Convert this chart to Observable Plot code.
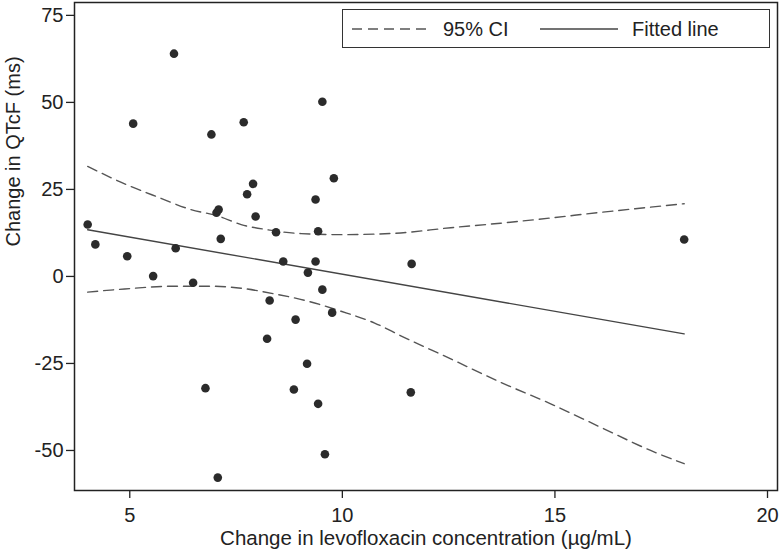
<!DOCTYPE html>
<html>
<head>
<meta charset="utf-8">
<script src="https://cdn.jsdelivr.net/npm/d3@7"></script>
<script src="https://cdn.jsdelivr.net/npm/@observablehq/plot@0.6"></script>
<style>
  html, body { margin: 0; padding: 0; background: #fff; }
  #wrap { position: relative; width: 780px; height: 552px; font-family: "Liberation Sans", Arial, sans-serif; }
  #legend { position: absolute; left: 342px; top: 9px; width: 426px; height: 37px; border: 1.5px solid #333; background: #fff; }
  #legend svg { position: absolute; left: 0; top: 0; }
  #legend .t { position: absolute; top: 7px; font-size: 20px; line-height: 24px; color: #222; white-space: nowrap; }
</style>
</head>
<body>
<div id="wrap"></div>
<script>
// Observed data: change in levofloxacin concentration (µg/mL) vs change in QTcF (ms)
const concChange = [4.01, 4.19, 4.94, 5.08, 5.55, 6.04, 6.08, 6.49, 6.92, 6.78, 7.07, 7.04, 7.09, 7.14, 7.68, 7.76, 7.90, 7.96, 8.29, 8.23, 8.44, 8.61, 8.90, 8.86, 9.17, 9.19, 9.37, 9.43, 9.37, 9.43, 9.53, 9.53, 9.59, 9.76, 9.80, 11.63, 18.04, 11.61];
const qtcfChange = [14.9, 9.2, 5.8, 43.9, 0.1, 64.0, 8.1, -1.8, 40.8, -32.1, -57.8, 18.3, 19.2, 10.8, 44.3, 23.6, 26.6, 17.2, -6.9, -17.9, 12.7, 4.3, -12.4, -32.5, -25.1, 1.1, 22.1, 13.0, 4.3, -36.6, 50.2, -3.8, -51.1, -10.4, 28.2, 3.6, 10.6, -33.3];

// Fitted line
const fitX = [4.01, 18.04];
const fitY = [13.4, -16.5];

// 95% CI bounds
const ciUpperX = [4.01, 4.88, 5.66, 6.44, 7.07, 7.62, 8.25, 9.03, 9.97, 11.23, 12.55, 13.72, 14.90, 16.07, 17.25, 18.04];
const ciUpperY = [31.6, 26.6, 22.8, 19.2, 17.4, 14.9, 13.4, 12.3, 12.0, 12.4, 14.0, 15.3, 16.8, 18.4, 19.9, 20.9];
const ciLowerX = [4.01, 4.88, 6.05, 6.84, 7.62, 8.40, 9.19, 9.97, 10.76, 11.40, 12.55, 13.72, 14.90, 16.07, 17.25, 18.04];
const ciLowerY = [-4.5, -3.6, -2.8, -2.8, -3.4, -5.0, -7.1, -10.0, -13.4, -17.2, -23.7, -30.4, -36.6, -43.3, -50.0, -53.8];

const xTicks = [5, 10, 15, 20];
const yTicks = [-50, -25, 0, 25, 50, 75];
const xLabel = "Change in levofloxacin concentration (µg/mL)";
const yLabel = "Change in QTcF (ms)";

const points = concChange.map((x, i) => ({x, y: qtcfChange[i]}));
const fit = fitX.map((x, i) => ({x, y: fitY[i]}));
const upper = ciUpperX.map((x, i) => ({x, y: ciUpperY[i]}));
const lower = ciLowerX.map((x, i) => ({x, y: ciLowerY[i]}));

const chart = Plot.plot({
  width: 780,
  height: 552,
  marginLeft: 74,
  marginRight: 3,
  marginTop: 2,
  marginBottom: 62,
  style: {fontFamily: "Liberation Sans, Arial, sans-serif", fontSize: "20px", background: "#fff", color: "#222", overflow: "visible"},
  x: {domain: [3.7, 20.235]},
  y: {domain: [-61.5, 78.7]},
  marks: [
    Plot.axisX({ticks: xTicks, tickSize: 8, tickPadding: 9, tickFormat: d => String(d), label: null, strokeWidth: 1.3}),
    Plot.axisY({ticks: yTicks, tickSize: 8, tickPadding: 3, tickFormat: d => String(d), label: null, strokeWidth: 1.3}),
    Plot.text([xLabel], {text: d => d, frameAnchor: "bottom", dy: 54, fontSize: 20.5, fill: "#222"}),
    Plot.text([yLabel], {text: d => d, frameAnchor: "left", dx: -61, rotate: -90, fontSize: 20, fill: "#222"}),
    Plot.line(upper, {x: "x", y: "y", stroke: "#555", strokeWidth: 1.4, strokeDasharray: "10,6", curve: "monotone-x"}),
    Plot.line(lower, {x: "x", y: "y", stroke: "#555", strokeWidth: 1.4, strokeDasharray: "10,6", curve: "monotone-x"}),
    Plot.line(fit, {x: "x", y: "y", stroke: "#444", strokeWidth: 1.4}),
    Plot.dot(points, {x: "x", y: "y", r: 4.3, fill: "#2b2b2b", stroke: "none"}),
    Plot.frame({stroke: "#222", strokeWidth: 1.5})
  ]
});

const wrap = document.getElementById("wrap");
wrap.appendChild(chart);

const legend = document.createElement("div");
legend.id = "legend";
legend.innerHTML = `
  <svg width="426" height="37">
    <line x1="9" x2="86" y1="19" y2="19" stroke="#555" stroke-width="1.4" stroke-dasharray="10,6"/>
    <line x1="197" x2="275" y1="19" y2="19" stroke="#444" stroke-width="1.4"/>
  </svg>
  <span class="t" style="left:100px">95% CI</span>
  <span class="t" style="left:289px">Fitted line</span>`;
wrap.appendChild(legend);
</script>
</body>
</html>
